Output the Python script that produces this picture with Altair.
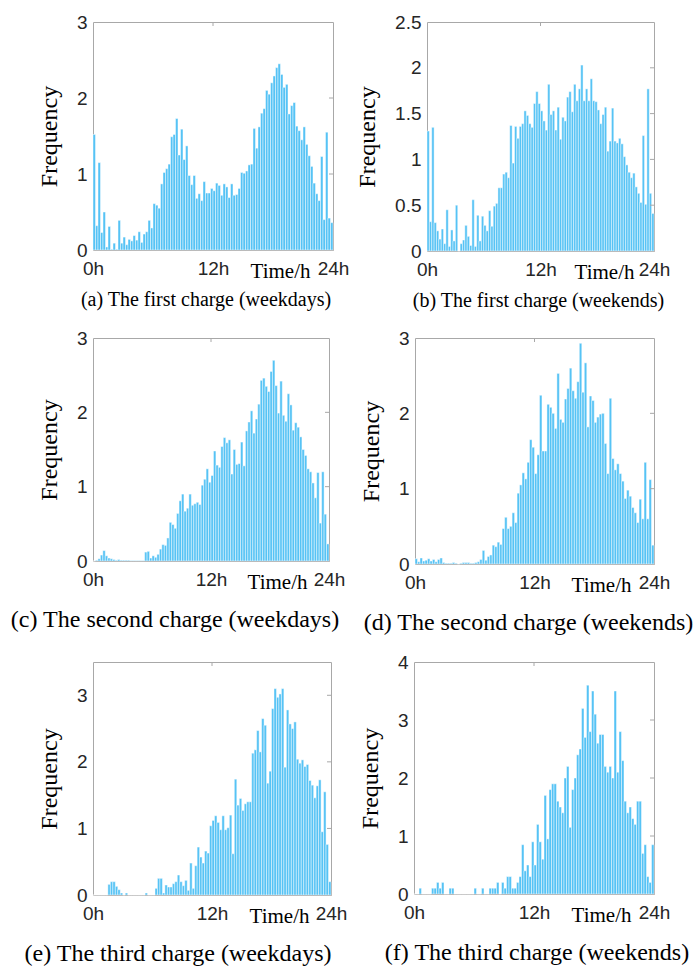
import altair as alt
import pandas as pd

# ---------------- data (frequency per 15-min bin, 96 bins over 24 h) ----------------
first_weekdays = [1.52,0.32,1.15,0.23,0.5,0.04,0.31,0.01,0.09,0.01,
                  0.39,0.09,0.17,0.07,0.14,0.12,0.19,0.13,0.24,0.1,
                  0.21,0.24,0.39,0.29,0.61,0.59,0.55,0.87,1.02,1.07,
                  1.13,1.49,1.52,1.73,1.25,1.59,1.19,1.37,0.98,0.86,
                  0.98,0.68,0.74,0.65,0.9,0.75,0.75,0.81,0.78,0.88,
                  0.85,0.72,0.87,0.83,0.69,0.87,0.72,0.73,0.81,1.02,
                  1.01,1.04,1.12,1.13,1.6,1.34,1.62,1.8,1.86,2.1,
                  2.05,2.2,2.29,2.4,2.45,2.31,2.14,2.18,1.79,1.9,
                  1.94,1.63,1.57,1.45,1.62,1.39,1.24,1.1,0.88,0.74,
                  0.65,1.23,0.4,1.55,0.42,0.36]

first_weekends = [1.31,0.32,1.35,0.31,0.22,0.13,0.24,0.08,0.45,0.05,
                  0.23,0.11,0.5,0.0,0.08,0.12,0.28,0.16,0.06,0.56,
                  0.05,0.39,0.11,0.38,0.28,0.22,0.44,0.27,0.49,0.52,
                  0.69,0.69,0.84,0.86,0.8,1.37,0.96,1.36,1.23,1.36,
                  1.39,1.53,1.48,1.39,1.35,1.61,1.74,1.61,1.53,1.42,
                  1.32,1.82,1.49,1.53,1.32,1.57,1.22,1.46,1.42,1.68,
                  1.74,1.52,1.82,1.64,1.77,2.03,1.64,1.77,1.64,1.88,
                  1.64,1.63,1.54,1.39,1.49,1.57,1.09,1.2,1.56,1.2,
                  1.18,1.23,1.17,1.03,0.94,0.86,0.8,0.85,0.7,0.63,
                  0.53,1.26,0.51,1.77,0.63,0.41]

second_weekdays = [0.0,0.01,0.03,0.08,0.14,0.07,0.04,0.03,0.02,0.01,
                   0.02,0.01,0.01,0.01,0.01,0.005,0.005,0.005,0.005,0.005,
                   0.005,0.12,0.13,0.04,0.07,0.05,0.09,0.16,0.22,0.21,
                   0.31,0.52,0.49,0.44,0.64,0.81,0.9,0.67,0.71,0.9,
                   0.75,0.77,0.79,0.76,1.02,1.1,1.24,1.06,1.15,1.48,
                   1.29,1.26,1.54,1.66,1.59,1.63,1.17,1.5,1.3,1.31,
                   1.6,1.28,1.75,1.87,2.02,1.72,1.91,2.11,2.43,2.46,
                   2.35,2.28,2.55,2.7,2.36,1.99,2.42,1.96,1.88,2.25,
                   2.1,1.76,1.86,1.8,1.67,1.5,1.42,1.24,1.2,1.05,
                   0.85,1.19,0.51,1.2,0.63,0.23]

second_weekends = [0.07,0.03,0.08,0.04,0.05,0.07,0.04,0.06,0.03,0.06,
                   0.08,0.02,0.01,0.01,0.01,0.02,0.01,0.0,0.01,0.02,
                   0.02,0.02,0.01,0.01,0.02,0.03,0.06,0.18,0.05,0.1,
                   0.12,0.25,0.23,0.29,0.26,0.47,0.62,0.47,0.5,0.68,
                   0.55,0.94,1.05,1.21,1.13,1.35,1.65,1.55,1.2,1.45,
                   2.24,1.5,1.5,2.12,2.08,2.0,1.8,2.53,1.92,1.88,
                   2.19,2.33,2.6,2.3,2.2,2.42,2.93,2.28,2.67,1.82,
                   2.23,2.17,1.88,1.95,1.99,2.0,1.6,1.2,2.2,1.4,
                   1.25,1.33,1.2,1.1,0.87,0.98,0.9,0.75,0.68,0.55,
                   0.86,0.6,1.35,0.6,1.12,0.25]

third_weekdays = [0,0,0,0,0,0,0.16,0.2,0.2,0.13,
                  0.08,0.03,0,0.03,0,0,0,0,0,0,
                  0,0.03,0,0,0,0.1,0.25,0.25,0.03,0.15,
                  0.12,0.12,0.17,0.2,0.3,0.2,0.14,0.22,0.07,0.48,
                  0.1,0.44,0.72,0.57,0.48,0.66,0.63,1.04,1.12,1.19,
                  1.09,0.98,1.19,0.98,1.01,1.2,0.62,1.74,1.35,1.45,
                  1.27,1.37,1.4,1.4,2.13,2.18,2.47,2.15,2.65,2.55,
                  1.68,1.86,2.8,3.1,2.97,3.02,3.1,1.92,2.78,2.57,
                  2.5,2.6,2.04,1.98,2.03,1.93,1.96,1.72,1.65,1.46,
                  1.64,1.73,0.95,1.55,0.76,0.2]

third_weekends = [0,0,0.1,0,0,0,0,0.1,0.1,0.2,
                  0.1,0.2,0,0,0.1,0.1,0,0,0,0,
                  0,0,0,0,0.1,0,0,0.1,0,0,
                  0.1,0.1,0.1,0.2,0,0.2,0.1,0.3,0.3,0.1,
                  0.1,0.2,0.3,0.85,0.4,0.5,0.3,0.9,0.5,1.2,
                  0.9,0.6,1.7,0.95,1.8,1.9,1.9,1.6,1.5,1.4,
                  2.0,2.2,1.15,1.8,2.0,2.4,2.5,3.2,2.7,3.6,
                  2.8,3.5,3.1,2.6,2.75,2.75,2.2,2.1,2.2,2.0,
                  3.5,2.1,2.8,2.3,1.6,1.4,1.5,1.3,1.2,1.6,
                  1.6,0.7,0.85,0.3,0.2,0.85]

captions = ["(a) The first charge (weekdays)", "(b) The first charge (weekends)",
            "(c) The second charge (weekdays)", "(d) The second charge (weekends)",
            "(e) The third charge (weekdays)", "(f) The third charge (weekends)"]
y_max = [3, 2.5, 3, 3, 3.5, 4]
y_ticks = [[0, 1, 2, 3], [0, 0.5, 1, 1.5, 2, 2.5], [0, 1, 2, 3], [0, 1, 2, 3],
           [0, 1, 2, 3], [0, 1, 2, 3, 4]]
x_ticks = [0, 12, 24]
bin_hours = 0.25

# ---------------- styling / layout ----------------
BLUE = "#56C3F5"
GRAY = "#a8a8a8"
SANS = "Liberation Sans"
SERIF = "Liberation Serif"

sizes = [(240, 228), (227, 229), (236, 223), (239, 226), (238, 233), (240, 232)]
cap_dx = [-7, -2, -36, -6, -34, 3]
cap_size = [20, 20, 24, 24, 24, 24]
cap_offset = [9, 9, 16, 16, 16, 16]


def panel(vals, ymax, yticks, size, caption, dx, csize, coff):
    W, H = size
    n = len(vals)
    df = pd.DataFrame({
        "start": [i * bin_hours for i in range(n)],
        "end": [(i + 1) * bin_hours for i in range(n)],
        "freq": vals,
    })
    xs = alt.Scale(domain=[0, 24], nice=False, zero=False)
    ys = alt.Scale(domain=[0, ymax], nice=False, zero=True)
    bars = alt.Chart(df).mark_bar(color=BLUE, stroke="white", strokeWidth=0.45).encode(
        x=alt.X("start:Q", scale=xs, axis=alt.Axis(
            values=x_ticks, labelExpr="datum.value + 'h'", title="Time/h",
            titleX=round(0.78 * W), titleY=27, titleBaseline="alphabetic",
            titleAlign="center", titleFontSize=21, labelPadding=9, labelFlush=False)),
        x2="end:Q",
        y=alt.Y("freq:Q", scale=ys, axis=alt.Axis(
            values=yticks, format="~g", title="Frequency", titleFontSize=24,
            labelPadding=6, titlePadding=15)),
        y2=alt.datum(0),
    )
    inner = [t for t in yticks if 0 < t < ymax]
    rt = alt.Chart(pd.DataFrame({"freq": inner})).mark_rule(color=GRAY, strokeWidth=1).encode(
        y=alt.Y("freq:Q", scale=ys), x=alt.value(W - 4), x2=alt.value(W))
    tt = alt.Chart(pd.DataFrame({"start": [12]})).mark_rule(color=GRAY, strokeWidth=1).encode(
        x=alt.X("start:Q", scale=xs), y=alt.value(0), y2=alt.value(4))
    return alt.layer(bars, rt, tt).properties(
        width=W, height=H,
        title=alt.TitleParams(text=caption, orient="bottom", anchor="middle", frame="group",
                              dx=dx, offset=coff, font=SERIF, fontSize=csize,
                              fontWeight="normal", color="black"))


series = [first_weekdays, first_weekends, second_weekdays, second_weekends,
          third_weekdays, third_weekends]
ps = [panel(series[i], y_max[i], y_ticks[i], sizes[i], captions[i], cap_dx[i],
            cap_size[i], cap_offset[i]) for i in range(6)]

row1 = alt.hconcat(ps[0], ps[1], spacing=5)
row2 = alt.hconcat(ps[2], ps[3], spacing=12)
row3 = alt.hconcat(ps[4], ps[5], spacing=9)

chart = alt.vconcat(row1, row2, row3, spacing=16).properties(
    padding={"left": 10, "top": 12, "right": 0, "bottom": 0}
).configure_view(stroke=GRAY, strokeWidth=1).configure_axis(
    domain=False, ticks=False, grid=False, labelFont=SANS, labelFontSize=19,
    labelColor="#262626", titleFont=SERIF, titleFontWeight="normal",
    titleColor="black", labelOverlap=False
)

chart.save("out.html", embed_options={"renderer": "svg", "actions": False})
